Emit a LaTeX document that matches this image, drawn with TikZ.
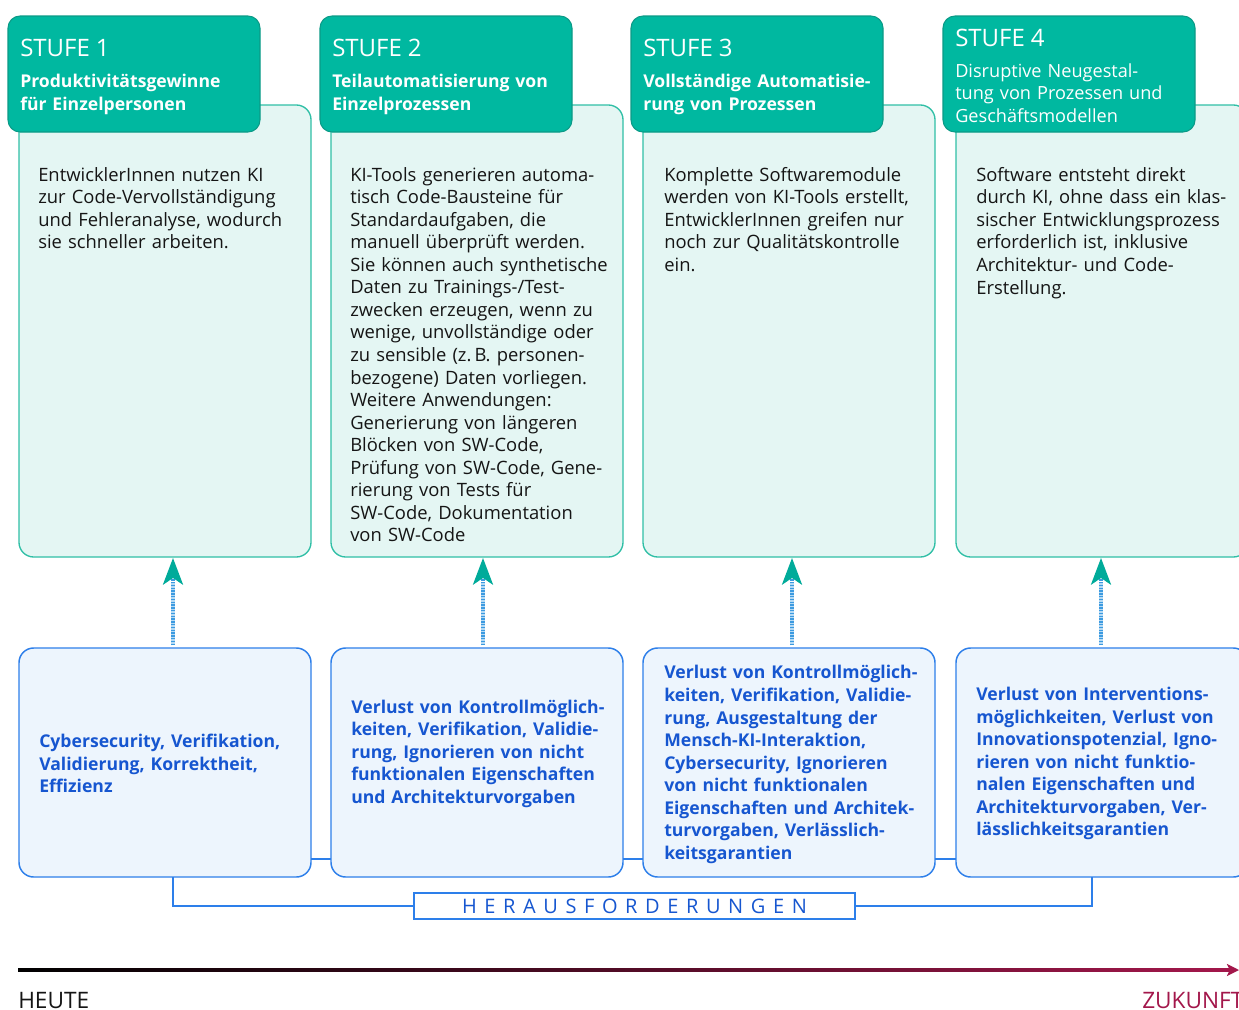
\documentclass[tikz,border=0pt]{standalone}
\usepackage{fontspec}
\setmainfont{Open Sans}
\newfontfamily\spacedfont[LetterSpace=38]{Open Sans}
\newcommand\stufesize{\fontsize{18pt}{21pt}\selectfont}
\usetikzlibrary{arrows.meta,calc}
\definecolor{hdrfill}{HTML}{00B8A0}
\definecolor{hdrdraw}{HTML}{0B9A87}
\definecolor{bodyfill}{HTML}{E4F6F3}
\definecolor{bodydraw}{HTML}{30BFA6}
\definecolor{botfill}{HTML}{EDF5FD}
\definecolor{botdraw}{HTML}{2D7FEA}
\definecolor{bluetext}{HTML}{1656D0}
\definecolor{textdark}{HTML}{151515}
\definecolor{crimson}{HTML}{A3174B}
\definecolor{tipteal}{HTML}{00AB9A}
\definecolor{dashblue}{HTML}{3C9AE0}
\definecolor{dashlight}{HTML}{B5DAF4}
\begin{document}
\begin{tikzpicture}[x=0.75pt,y=-0.75pt,
  bodybox/.style={draw=bodydraw, fill=bodyfill, line width=1pt, rounded corners=11pt, minimum width=219pt, minimum height=339pt, inner sep=0pt, outer sep=0pt},
  hdrbox/.style={draw=hdrdraw, fill=hdrfill, line width=0.8pt, rounded corners=9pt, minimum width=189pt, minimum height=87pt, inner sep=0pt, outer sep=0pt},
  botbox/.style={draw=botdraw, fill=botfill, line width=1.1pt, rounded corners=11pt, minimum width=219pt, minimum height=171.75pt, inner sep=0pt, outer sep=0pt},
  bodytext/.style={font=\fontsize{13.8pt}{16.9pt}\selectfont, text=textdark, align=left, inner sep=0pt, anchor=north west, text width=230pt},
  hdrtext/.style={font=\fontsize{13.2pt}{17pt}\selectfont, text=white, align=left, inner sep=0pt, anchor=west, text width=185pt},
  bottext/.style={font=\fontsize{13.2pt}{16.9pt}\selectfont\bfseries, text=bluetext, align=left, inner sep=0pt, anchor=west, text width=215pt},
  brk/.style={draw=botdraw, line width=1.1pt},
  dashline/.style={line width=2.4pt, dash pattern=on 1.1pt off 1pt, draw=dashblue},
  uparrow/.style={dashline, -{Stealth[length=20pt, width=15pt, inset=5pt, color=tipteal]}},
]
\clip (0,0) rectangle (1239,1010);
\fill[white] (0,0) rectangle (1239,1010);

% body boxes
\node[bodybox] (t1) at (165,331) {};
\node[bodybox] (t2) at (477,331) {};
\node[bodybox] (t3) at (789,331) {};
\node[bodybox] (t4) at (1102,331) {};

% header boxes
\node[hdrbox] (h1) at (134,74) {};
\node[hdrbox] (h2) at (446,74) {};
\node[hdrbox] (h3) at (757,74) {};
\node[hdrbox] (h4) at (1069,74) {};

\node[hdrtext] (h1t) at ($(h1.west)+(12,3)$) {{\stufesize STUFE 1}\\[6pt]\bfseries Produktivitätsgewinne\\\bfseries für Einzelpersonen};
\node[hdrtext] (h2t) at ($(h2.west)+(12,3)$) {{\stufesize STUFE 2}\\[6pt]\bfseries Teilautomatisierung von\\\bfseries Einzelprozessen};
\node[hdrtext] (h3t) at ($(h3.west)+(12,3)$) {{\stufesize STUFE 3}\\[6pt]\bfseries Vollständige Automatisie-\\\bfseries rung von Prozessen};
\node[hdrtext, font=\fontsize{13.6pt}{17pt}\selectfont] (h4t) at ($(h4.west)+(12,2)$) {{\stufesize STUFE 4}\\[6pt]Disruptive Neugestal-\\tung von Prozessen und\\Geschäftsmodellen};

% body texts
\node[bodytext] (b1t) at ($(t1.north west)+(19,62)$) {EntwicklerInnen nutzen KI\\zur Code-Vervollständigung\\und Fehleranalyse, wodurch\\sie schneller arbeiten.};
\node[bodytext] (b2t) at ($(t2.north west)+(19,62)$) {KI-Tools generieren automa-\\tisch Code-Bausteine für\\Standardaufgaben, die\\manuell überprüft werden.\\Sie können auch synthetische\\Daten zu Trainings-/Test-\\zwecken erzeugen, wenn zu\\wenige, unvollständige oder\\zu sensible (z.\,B. personen-\\bezogene) Daten vorliegen.\\Weitere Anwendungen:\\Generierung von längeren\\Blöcken von SW-Code,\\Prüfung von SW-Code, Gene-\\rierung von Tests für\\SW-Code, Dokumentation\\von SW-Code};
\node[bodytext] (b3t) at ($(t3.north west)+(21,62)$) {Komplette Softwaremodule\\werden von KI-Tools erstellt,\\EntwicklerInnen greifen nur\\noch zur Qualitätskontrolle\\ein.};
\node[bodytext] (b4t) at ($(t4.north west)+(20,62)$) {Software entsteht direkt\\durch KI, ohne dass ein klas-\\sischer Entwicklungsprozess\\erforderlich ist, inklusive\\Architektur- und Code-\\Erstellung.};

% bottom boxes
\node[botbox] (c1) at (165,762.5) {};
\node[botbox] (c2) at (477,762.5) {};
\node[botbox] (c3) at (789,762.5) {};
\node[botbox] (c4) at (1102,762.5) {};

\node[bottext] (c1t) at ($(c1.west)+(20,1)$) {Cybersecurity, Verifikation,\\Validierung, Korrektheit,\\Effizienz};
\node[bottext] (c2t) at ($(c2.west)+(20,-9)$) {Verlust von Kontrollmöglich-\\keiten, Verifikation, Validie-\\rung, Ignorieren von nicht\\funktionalen Eigenschaften\\und Architekturvorgaben};
\node[bottext] (c3t) at ($(c3.west)+(21,2)$) {Verlust von Kontrollmöglich-\\keiten, Verifikation, Validie-\\rung, Ausgestaltung der\\Mensch-KI-Interaktion,\\Cybersecurity, Ignorieren\\von nicht funktionalen\\Eigenschaften und Architek-\\turvorgaben, Verlässlich-\\keitsgarantien};
\node[bottext] (c4t) at ($(c4.west)+(20,1)$) {Verlust von Interventions-\\möglichkeiten, Verlust von\\Innovationspotenzial, Igno-\\rieren von nicht funktio-\\nalen Eigenschaften und\\Architekturvorgaben, Ver-\\lässlichkeitsgarantien};

% links between bottom boxes
\draw[brk] ($(c1.south east)+(0,-18)$) -- ($(c2.south west)+(0,-18)$);
\draw[brk] ($(c2.south east)+(0,-18)$) -- ($(c3.south west)+(0,-18)$);
\draw[brk] ($(c3.south east)+(0,-18)$) -- ($(c4.south west)+(0,-18)$);

% arrows
\foreach \a/\b/\dx in {c1/t1/8, c2/t2/6, c3/t3/3, c4/t4/-1}{
  \draw[line width=2.4pt, draw=dashlight] ($(\a.north)+(\dx,-3)$) -- ($(\b.south)+(\dx,26)$);
  \draw[uparrow] ($(\a.north)+(\dx,-3)$) -- ($(\b.south)+(\dx,1)$);
}

% HERAUSFORDERUNGEN
\node[draw=botdraw, fill=white, line width=1.1pt, minimum width=330.75pt, minimum height=19.5pt, inner sep=0pt, text=bluetext, font=\fontsize{15pt}{18pt}\spacedfont] (hf) at (634.5,906) {\raisebox{-1pt}{HERAUSFORDERUNGEN}};
\draw[brk] ($(c1.south)+(8,0)$) |- (hf.west);
\draw[brk] (hf.east) -| ($(c4.south)+(-10,0)$);

% timeline
\coordinate (tl0) at (18,970);
\coordinate (tl1) at (1239,970);
\shade[left color=black, right color=crimson] ($(tl0)+(0,-1.6)$) rectangle ($(tl1)+(-8,1.6)$);
\draw[crimson, line width=2.4pt, -{Stealth[length=9pt, width=9pt, inset=2pt]}] ($(tl1)+(-12,0)$) -- (tl1);
\node[anchor=base west, inner sep=0pt, text=textdark, font=\fontsize{17pt}{20pt}\selectfont] (heute) at (18,1008) {HEUTE};
\node[anchor=base west, inner sep=0pt, text=crimson, font=\fontsize{17pt}{20pt}\selectfont] (zukunft) at (1142,1008) {ZUKUNFT};
\end{tikzpicture}
\end{document}
